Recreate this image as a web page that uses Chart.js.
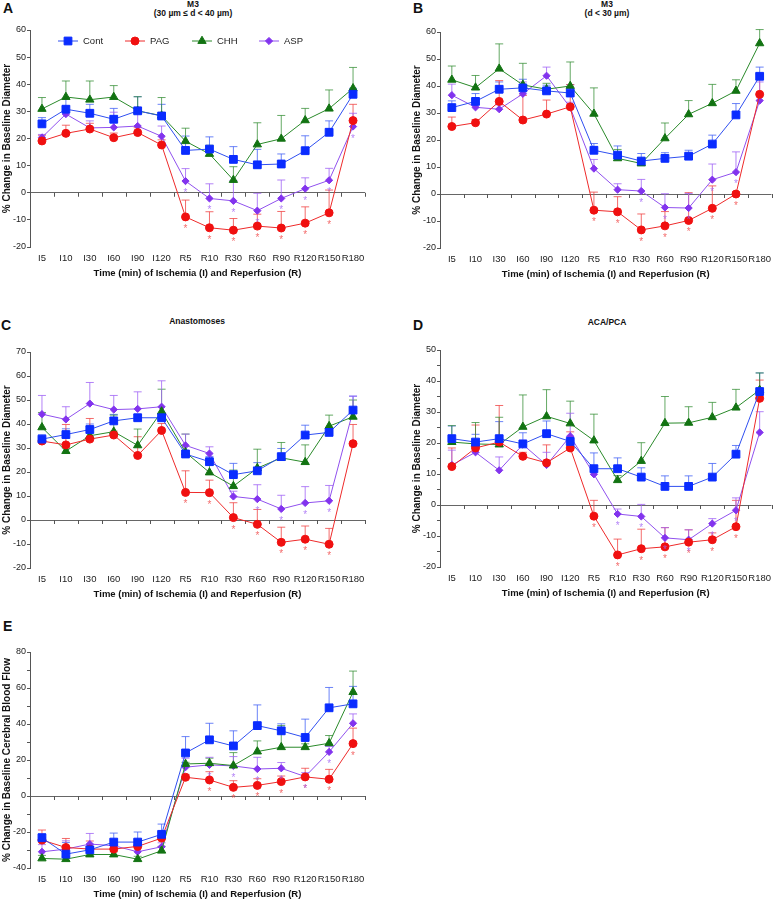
<!DOCTYPE html>
<html>
<head>
<meta charset="utf-8">
<script src="https://cdn.jsdelivr.net/npm/chart.js@4.4.0/dist/chart.umd.min.js"></script>
<style>
body { margin: 0; width: 778px; height: 899px; overflow: hidden; background: #fff; position: relative;
       font-family: "Liberation Sans", Arial, sans-serif; color: #111; }
.box { position: absolute; }
.letter { position: absolute; font-weight: bold; font-size: 14px; line-height: 14px; }
.ttl { position: absolute; width: 220px; text-align: center; font-weight: bold; font-size: 8.5px; line-height: 9px; }
</style>
</head>
<body>

<div class="letter" style="left:3px;top:1px">A</div>
<div class="ttl" style="left:83px;top:0px">M3<br>(30 µm ≤ d &lt; 40 µm)</div>
<div class="box" style="left:0;top:0;width:375px;height:285px"><canvas id="chartA"></canvas></div>

<div class="letter" style="left:413px;top:1px">B</div>
<div class="ttl" style="left:497px;top:0px">M3<br>(d &lt; 30 µm)</div>
<div class="box" style="left:410px;top:0;width:368px;height:286px"><canvas id="chartB"></canvas></div>

<div class="letter" style="left:1px;top:318px">C</div>
<div class="ttl" style="left:87px;top:317px">Anastomoses</div>
<div class="box" style="left:0;top:300px;width:375px;height:306px"><canvas id="chartC"></canvas></div>

<div class="letter" style="left:413px;top:318px">D</div>
<div class="ttl" style="left:497px;top:318px">ACA/PCA</div>
<div class="box" style="left:410px;top:300px;width:368px;height:305px"><canvas id="chartD"></canvas></div>

<div class="letter" style="left:3px;top:619px">E</div>
<div class="box" style="left:0;top:600px;width:375px;height:306px"><canvas id="chartE"></canvas></div>

<script>
// x categories
const timeLabels = ["I5", "I10", "I30", "I60", "I90", "I120", "R5", "R10", "R30", "R60", "R90", "R120", "R150", "R180"];
const seriesNames = ["Cont", "PAG", "CHH", "ASP"];

// A: M3 (30-40 um)
const aCont    = [25.4, 30.8, 29.3, 27.1, 30.2, 28.3, 15.6, 16.1, 12.3, 10.3, 10.6, 15.5, 22.3, 36.3];
const aContErr = [27.7, 34.5, 32.6, 31.1, 35.4, 32.6, 20.9, 20.6, 17.0, 16.0, 14.3, 21.0, 26.5, 38.5];
const aPag     = [19.1, 21.9, 23.5, 20.3, 22.2, 17.6, -8.9, -12.9, -13.8, -12.3, -13.0, -11.2, -7.4, 26.6];
const aPagErr  = [21.2, 24.9, 25.6, 22.0, 24.0, 19.5, -2.7, -7.0, -9.5, -7.9, -6.9, -5.2, 1.0, 32.6];
const aChh     = [30.9, 35.3, 34.3, 35.3, 30.2, 28.4, 19.0, 14.3, 4.7, 17.8, 19.9, 26.7, 31.0, 38.5];
const aChhErr  = [35.1, 41.2, 41.2, 39.5, 35.4, 35.1, 23.8, 17.5, 9.6, 25.8, 28.5, 31.1, 37.9, 46.2];
const aAsp     = [20.4, 29.0, 23.9, 24.1, 24.6, 20.8, 4.3, -2.1, -3.0, -6.6, -2.1, 1.5, 4.6, 24.4];
const aAspErr  = [21.5, 31.8, 26.5, 29.7, 31.5, 24.6, 8.9, 3.3, 4.5, -0.2, 4.7, 5.5, 9.0, 29.3];
const aPagSig  = ["R5", "R10", "R30", "R60", "R90", "R120", "R150"];
const aAspSig  = ["R5", "R10", "R30", "R60", "R90", "R120", "R150", "R180"];

// B: M3 (< 30 um)
const bCont    = [32.0, 34.3, 38.8, 39.3, 38.2, 37.4, 16.2, 14.4, 12.2, 13.2, 14.0, 18.5, 29.3, 43.6];
const bContErr = [34.5, 37.2, 41.5, 42.5, 40.3, 40.5, 18.7, 17.8, 15.0, 15.3, 16.2, 21.8, 33.5, 47.0];
const bPag     = [25.0, 26.4, 34.3, 27.4, 29.6, 32.3, -6.0, -6.6, -13.3, -11.8, -9.8, -5.3, 0.0, 36.9];
const bPagErr  = [28.5, 27.5, 42.0, 36.5, 34.8, 40.5, 0.7, -1.0, -7.4, -6.5, 0.5, 3.0, 0.8, 44.5];
const bChh     = [42.3, 39.4, 46.4, 40.4, 38.8, 40.0, 29.7, 13.2, 11.3, 20.6, 29.5, 33.6, 38.2, 55.8];
const bChhErr  = [47.4, 43.9, 55.6, 48.4, 41.0, 48.9, 39.3, 16.5, 13.4, 26.3, 34.6, 40.6, 42.3, 60.9];
const bAsp     = [36.6, 32.1, 31.4, 37.1, 43.8, 32.0, 9.4, 1.6, 1.1, -5.0, -5.2, 5.3, 8.1, 34.6];
const bAspErr  = [40.7, 35.0, 33.0, 41.5, 47.0, 34.0, 12.8, 3.8, 5.4, 0.1, 0.2, 11.1, 15.6, 41.5];
const bPagSig  = ["R5", "R10", "R30", "R60", "R90", "R120", "R150"];
const bAspSig  = ["R30", "R60", "R90", "R120", "R150"];

// C: anastomoses
const cCont    = [33.7, 35.6, 37.7, 41.3, 42.6, 42.6, 27.5, 24.3, 18.9, 20.5, 26.4, 35.4, 36.5, 45.8];
const cContErr = [35.5, 38.0, 40.0, 44.0, 44.0, 44.0, 29.0, 26.5, 23.6, 23.9, 29.8, 39.5, 38.5, 51.6];
const cPag     = [32.9, 31.3, 33.7, 35.4, 26.9, 37.3, 11.5, 11.4, 1.0, -1.8, -9.3, -8.0, -10.1, 31.8];
const cPagErr  = [34.5, 39.8, 42.3, 37.0, 34.7, 40.2, 20.5, 16.6, 7.2, 4.4, -3.0, -2.5, -3.5, 39.8];
const cChh     = [38.6, 28.7, 35.1, 36.8, 31.1, 45.2, 28.2, 19.8, 14.1, 21.6, 25.9, 24.1, 39.1, 43.0];
const cChhErr  = [44.8, 30.0, 39.1, 43.7, 37.9, 54.5, 35.8, 22.9, 20.8, 29.5, 32.3, 31.3, 43.7, 50.0];
const cAsp     = [44.1, 41.9, 48.5, 46.0, 46.3, 47.2, 31.1, 27.7, 9.8, 8.7, 4.6, 7.1, 8.0, 45.5];
const cAspErr  = [51.9, 47.2, 57.3, 51.9, 53.4, 58.0, 35.8, 30.5, 12.0, 14.7, 10.3, 13.9, 14.4, 51.6];
const cPagSig  = ["R5", "R10", "R30", "R60", "R90", "R120", "R150"];
const cAspSig  = ["R60", "R90", "R120", "R150"];

// D: ACA/PCA
const dCont    = [21.4, 20.3, 21.4, 19.7, 23.0, 20.5, 11.7, 11.7, 9.0, 6.0, 6.0, 9.0, 16.4, 36.6];
const dContErr = [25.5, 22.8, 26.9, 23.3, 27.1, 22.0, 16.8, 15.2, 12.0, 9.4, 9.4, 13.4, 19.2, 42.6];
const dPag     = [12.4, 18.4, 20.3, 15.7, 13.6, 18.4, -3.6, -16.1, -14.1, -13.5, -12.0, -11.2, -7.0, 34.4];
const dPagErr  = [18.4, 25.8, 32.1, 17.0, 19.4, 23.6, 1.5, -11.0, -7.8, -7.3, -8.0, -9.0, 1.5, 40.3];
const dChh     = [20.3, 19.7, 19.5, 25.2, 28.6, 26.3, 20.8, 8.0, 14.2, 26.4, 26.5, 28.3, 31.4, 37.1];
const dChhErr  = [25.6, 26.6, 28.3, 35.5, 37.2, 33.5, 29.3, 9.5, 20.1, 35.0, 31.7, 33.1, 37.3, 42.6];
const dAsp     = [12.9, 17.0, 11.2, 19.5, 12.9, 22.2, 9.9, -2.9, -3.7, -10.6, -11.2, -6.0, -1.7, 23.4];
const dAspErr  = [17.7, 19.8, 15.5, 20.9, 17.0, 29.6, 12.8, -1.3, 0.2, -7.3, -8.0, -4.4, 2.3, 30.1];
const dPagSig  = ["R5", "R10", "R30", "R60", "R90", "R120", "R150"];
const dAspSig  = ["R10", "R30", "R60", "R90", "R120", "R150"];

// E: cerebral blood flow
const eCont    = [-23.2, -32.3, -29.9, -25.6, -25.6, -21.3, 23.9, 31.2, 27.8, 39.1, 36.2, 32.5, 49.0, 51.2];
const eContErr = [-21.0, -25.8, -28.0, -20.6, -20.0, -15.6, 33.0, 40.4, 36.2, 50.6, 40.1, 42.7, 60.3, 60.9];
const ePag     = [-24.5, -28.6, -29.5, -29.5, -28.0, -23.4, 10.4, 8.9, 4.8, 5.9, 8.0, 10.6, 9.3, 29.1];
const ePagErr  = [-18.9, -23.6, -25.0, -25.0, -24.0, -20.0, 12.0, 13.5, 8.5, 9.6, 11.1, 15.4, 14.8, 37.7];
const eChh     = [-34.7, -35.1, -32.5, -32.5, -35.1, -30.4, 17.8, 18.2, 16.9, 24.7, 27.1, 27.1, 29.3, 57.7];
const eChhErr  = [-33.0, -33.5, -29.0, -31.0, -33.5, -28.0, 18.7, 21.0, 24.1, 30.6, 39.1, 29.0, 33.6, 69.4];
const eAsp     = [-31.0, -29.5, -26.7, -27.6, -31.0, -28.2, 16.0, 17.3, 16.7, 15.0, 15.4, 10.8, 24.5, 40.4];
const eAspErr  = [-27.0, -24.9, -20.8, -24.0, -26.0, -26.0, 21.0, 21.5, 21.9, 21.5, 18.6, 13.0, 27.5, 45.6];
const ePagSig  = ["R10", "R30", "R60", "R90", "R120", "R150", "R180"];
const eAspSig  = ["R10", "R30", "R60", "R90", "R120", "R150"];

// styles per series (Cont, PAG, CHH, ASP)
const lineColors  = ["#2f4ff0", "#ee2a2a", "#2a8a2a", "#9050ee"];
const pointColors = ["#0a2cff", "#f01010", "#127312", "#8233ee"];
const errColors   = ["rgba(70,100,245,0.8)", "rgba(240,70,70,0.8)", "rgba(50,140,50,0.75)", "rgba(160,100,245,0.8)"];
const pointStyles = ["rect", "circle", "triangle", "rectRot"];
const pointSizes  = [5.5, 4, 4.8, 3.6];

const FONT = "'Liberation Sans', Arial, sans-serif";

const extras = {
    id: "extras",
    beforeDatasetsDraw(chart) {
        const ctx = chart.ctx;
        const x = chart.scales.x, y = chart.scales.y;
        // little ticks on the zero line
        const half = (x.getPixelForValue(1) - x.getPixelForValue(0)) / 2;
        const y0 = y.getPixelForValue(0);
        ctx.save();
        ctx.strokeStyle = "#555";
        ctx.lineWidth = 1;
        for (let i = 0; i < timeLabels.length; i++) {
            const px = Math.round(x.getPixelForValue(i) + half) + 0.5;
            ctx.beginPath();
            ctx.moveTo(px, y0);
            ctx.lineTo(px, y0 + 4);
            ctx.stroke();
        }
        // upper error bars
        chart.data.datasets.forEach((ds, i) => {
            const meta = chart.getDatasetMeta(i);
            ctx.strokeStyle = ds.errColor;
            meta.data.forEach((pt, j) => {
                const top = y.getPixelForValue(ds.err[j]);
                ctx.beginPath();
                ctx.moveTo(pt.x, pt.y);
                ctx.lineTo(pt.x, top);
                ctx.moveTo(pt.x - 4, top);
                ctx.lineTo(pt.x + 4, top);
                ctx.stroke();
            });
        });
        ctx.restore();
    },
    afterDatasetsDraw(chart, args, opts) {
        const ctx = chart.ctx;
        ctx.save();
        // significance stars
        ctx.font = "10px " + FONT;
        ctx.textAlign = "center";
        ctx.textBaseline = "alphabetic";
        chart.data.datasets.forEach((ds, i) => {
            if (!ds.sig) return;
            const meta = chart.getDatasetMeta(i);
            ctx.fillStyle = ds.errColor;
            ds.sig.forEach(lab => {
                const pt = meta.data[timeLabels.indexOf(lab)];
                ctx.fillText("*", pt.x, pt.y + 15);
            });
        });
        // legend inside the plot (panel A only)
        if (opts.legend) {
            const area = chart.chartArea;
            const ly = area.top + 11;
            chart.data.datasets.forEach((ds, i) => {
                const x0 = area.left + 28 + i * 67;
                ctx.strokeStyle = ds.borderColor;
                ctx.lineWidth = 1;
                ctx.beginPath();
                ctx.moveTo(x0, ly);
                ctx.lineTo(x0 + 20, ly);
                ctx.stroke();
                ctx.fillStyle = ds.pointBackgroundColor;
                ctx.strokeStyle = ds.pointBackgroundColor;
                Chart.helpers.drawPoint(ctx, {pointStyle: ds.pointStyle, radius: ds.pointRadius, rotation: 0, borderWidth: 1}, x0 + 10, ly);
                ctx.fillStyle = "#222";
                ctx.font = "9.5px " + FONT;
                ctx.textAlign = "left";
                ctx.textBaseline = "middle";
                ctx.fillText(ds.label, x0 + 25, ly);
            });
        }
        ctx.restore();
    }
};

function makePanel(id, series, yMin, yMax, step, yTitle, padTop, padRight, showLegend) {
    const datasets = series.map((s, i) => ({
        label: seriesNames[i],
        data: s[0],
        err: s[1],
        sig: s[2],
        borderColor: lineColors[i],
        backgroundColor: pointColors[i],
        pointBackgroundColor: pointColors[i],
        pointBorderColor: pointColors[i],
        pointStyle: pointStyles[i],
        pointRadius: pointSizes[i],
        borderWidth: 1,
        tension: 0,
        errColor: errColors[i]
    }));

    new Chart(document.getElementById(id), {
        type: "line",
        data: { labels: timeLabels, datasets: datasets },
        plugins: [extras],
        options: {
            responsive: true,
            maintainAspectRatio: false,
            animation: false,
            layout: { padding: { top: padTop, right: padRight, left: 0, bottom: 0 } },
            plugins: {
                legend: { display: false },
                tooltip: { enabled: false },
                extras: { legend: showLegend }
            },
            scales: {
                x: {
                    type: "category",
                    offset: true,
                    grid: { display: false, drawTicks: false },
                    border: { display: false },
                    ticks: { autoSkip: false, maxRotation: 0, padding: 6, color: "#222", font: { size: 9.5, family: FONT } },
                    title: { display: true, text: "Time (min) of Ischemia (I) and Reperfusion (R)", color: "#111",
                             font: { size: 9.5, weight: "bold", family: FONT }, padding: { top: 0, bottom: 6 } },
                    afterFit: scale => { scale.height = 38; }
                },
                y: {
                    min: yMin,
                    max: yMax,
                    border: { display: true, color: "#555", width: 1 },
                    grid: {
                        drawTicks: true,
                        tickLength: 3,
                        tickColor: "#555",
                        color: c => (c.tick && c.tick.value === 0 ? "#666" : "rgba(0,0,0,0)"),
                        lineWidth: 1
                    },
                    ticks: {
                        stepSize: step / 2,
                        padding: 1,
                        color: "#222",
                        font: { size: 9, family: FONT },
                        callback: v => (v % step === 0 ? v : "")
                    },
                    title: { display: true, text: yTitle, color: "#111",
                             font: { size: 10, weight: "bold", family: FONT }, padding: { top: 1, bottom: 0 } },
                    afterFit: scale => { scale.width = 30; }
                }
            }
        }
    });
}

const diamTitle = "% Change in Baseline Diameter";

makePanel("chartA", [[aCont, aContErr], [aPag, aPagErr, aPagSig], [aChh, aChhErr], [aAsp, aAspErr, aAspSig]],
    -20, 60, 10, diamTitle, 30, 10, true);
makePanel("chartB", [[bCont, bContErr], [bPag, bPagErr, bPagSig], [bChh, bChhErr], [bAsp, bAspErr, bAspSig]],
    -20, 60, 10, diamTitle, 32, 2, false);
makePanel("chartC", [[cCont, cContErr], [cPag, cPagErr, cPagSig], [cChh, cChhErr], [cAsp, cAspErr, cAspSig]],
    -20, 70, 10, diamTitle, 52, 10, false);
makePanel("chartD", [[dCont, dContErr], [dPag, dPagErr, dPagSig], [dChh, dChhErr], [dAsp, dAspErr, dAspSig]],
    -20, 50, 10, diamTitle, 50, 2, false);
makePanel("chartE", [[eCont, eContErr], [ePag, ePagErr, ePagSig], [eChh, eChhErr], [eAsp, eAspErr, eAspSig]],
    -40, 80, 20, "% Change in Baseline Cerebral Blood Flow", 52, 10, false);
</script>
</body>
</html>
